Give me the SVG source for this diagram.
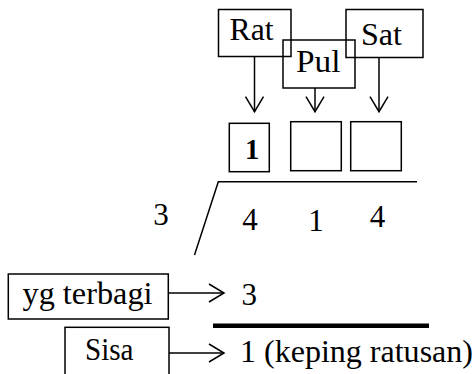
<svg xmlns="http://www.w3.org/2000/svg" width="475" height="374" viewBox="0 0 475 374" font-family="Liberation Serif">
<defs>
<style>
.box{fill:none;stroke:#000;stroke-width:1.5}
.ln{stroke:#000;stroke-width:1.5;fill:none}
.lbl{font-size:31px}
.dig{font-size:31px;text-anchor:middle}
</style>
<marker id="ah" markerUnits="userSpaceOnUse" viewBox="-16 -10 17 20" markerWidth="17" markerHeight="20" refX="0" refY="0" orient="auto" overflow="visible">
<path d="M-15,-9 L0,0 L-15,9" fill="none" stroke="#000" stroke-width="1.5"/>
</marker>
</defs>
<rect width="475" height="374" fill="#fff"/>
<g id="rat"><rect class="box" x="218.5" y="9.5" width="72.5" height="47"/><text class="lbl" x="229.5" y="40" textLength="44" lengthAdjust="spacingAndGlyphs">Rat</text></g>
<g id="pul"><rect class="box" x="283" y="40" width="72" height="48"/><text class="lbl" x="296" y="71.7" textLength="44.5" lengthAdjust="spacingAndGlyphs">Pul</text></g>
<g id="sat"><rect class="box" x="346" y="9.5" width="77" height="48"/><text class="lbl" x="361" y="45" textLength="41" lengthAdjust="spacingAndGlyphs">Sat</text></g>
<g id="box1"><rect class="box" x="229.3" y="123.3" width="40" height="48.4"/><text x="252" y="159.3" font-size="28.5" font-weight="bold" text-anchor="middle">1</text></g>
<g id="box2"><rect class="box" x="290.7" y="121.7" width="50.6" height="49"/></g>
<g id="box3"><rect class="box" x="350.7" y="121.7" width="50.6" height="49"/></g>
<g id="division">
<polyline class="ln" points="194.5,255 218.3,181.7 417,181.7"/>
<text class="dig" x="161" y="225">3</text>
<text class="dig" x="250" y="230">4</text>
<text class="dig" x="316" y="230.7">1</text>
<text class="dig" x="377.5" y="226.7">4</text>
<text class="dig" x="249.3" y="305">3</text>
<line x1="213" y1="325.8" x2="429" y2="325.8" stroke="#000" stroke-width="4.5"/>
<text x="240" y="361.5" font-size="31.5" textLength="233" lengthAdjust="spacingAndGlyphs">1 (keping ratusan)</text>
</g>
<g id="terbagi"><rect class="box" x="8.3" y="274" width="160" height="45"/><text class="lbl" x="22.5" y="303.5" textLength="130" lengthAdjust="spacingAndGlyphs">yg terbagi</text></g>
<g id="sisa"><rect class="box" x="65" y="327.3" width="104" height="60"/><text class="lbl" x="85" y="360" textLength="48.5" lengthAdjust="spacingAndGlyphs">Sisa</text></g>
<g id="connectors">
<line class="ln" x1="254.5" y1="56.7" x2="254.5" y2="111.7" marker-end="url(#ah)"/>
<line class="ln" x1="315" y1="88" x2="315" y2="111.7" marker-end="url(#ah)"/>
<line class="ln" x1="379" y1="57.5" x2="379" y2="111.7" marker-end="url(#ah)"/>
<line class="ln" x1="168.3" y1="293" x2="224" y2="293" marker-end="url(#ah)"/>
<line class="ln" x1="169" y1="353" x2="224" y2="353" marker-end="url(#ah)"/>
</g>
</svg>
